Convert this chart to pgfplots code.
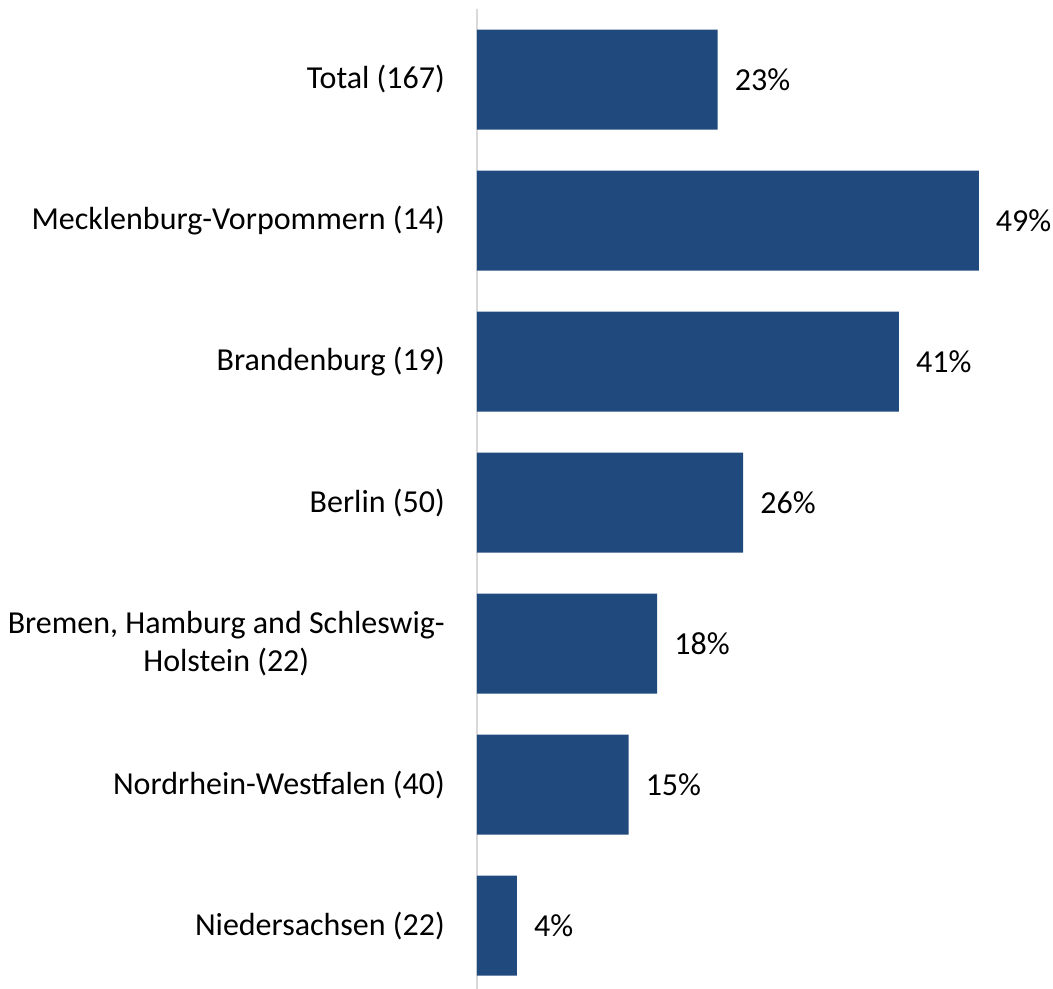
\documentclass[border=0pt]{standalone}
\usepackage{pgfplots}
\pgfplotsset{compat=1.18}
\usepackage{fontspec}
\setmainfont{Carlito}
\definecolor{barblue}{RGB}{32,74,125}
\begin{document}
\fontsize{32}{37}\selectfont
\begin{tikzpicture}
\begin{axis}[
  scale only axis,
  width=532.5pt, height=980pt,
  xmin=0, xmax=52,
  ymin=-0.5, ymax=6.45,
  y dir=reverse,
  xbar, bar width=100pt, bar shift=0pt,
  axis x line=none,
  axis y line*=left,
  y axis line style={draw=black!15, line width=2pt, -},
  major tick length=0pt,
  ytick={0,1,2,3,4,5,6},
  yticklabels={Total (167), Mecklenburg-Vorpommern (14), Brandenburg (19), Berlin (50), {Bremen, Hamburg and Schleswig-\\Holstein (22)}, Nordrhein-Westfalen (40), Niedersachsen (22)},
  yticklabel style={align=center, inner sep=0pt, xshift=-32pt, font=\fontsize{32}{38}\selectfont},
  point meta=explicit symbolic,
  nodes near coords,
  every node near coord/.append style={anchor=west, inner sep=0pt, xshift=17pt, font=\fontsize{32}{38}\selectfont, text=black},
  clip=false,
]
\addplot[fill=barblue, draw=none] table[meta=lab] {
x y lab
23.5 0 23\%
49.0 1 49\%
41.2 2 41\%
26.0 3 26\%
17.6 4 18\%
14.8 5 15\%
3.9 6 4\%
};
\end{axis}
\pgfresetboundingbox
\path ([xshift=-477pt]current axis.south west) rectangle ([xshift=576pt, yshift=9pt]current axis.north west);
\end{tikzpicture}
\end{document}
